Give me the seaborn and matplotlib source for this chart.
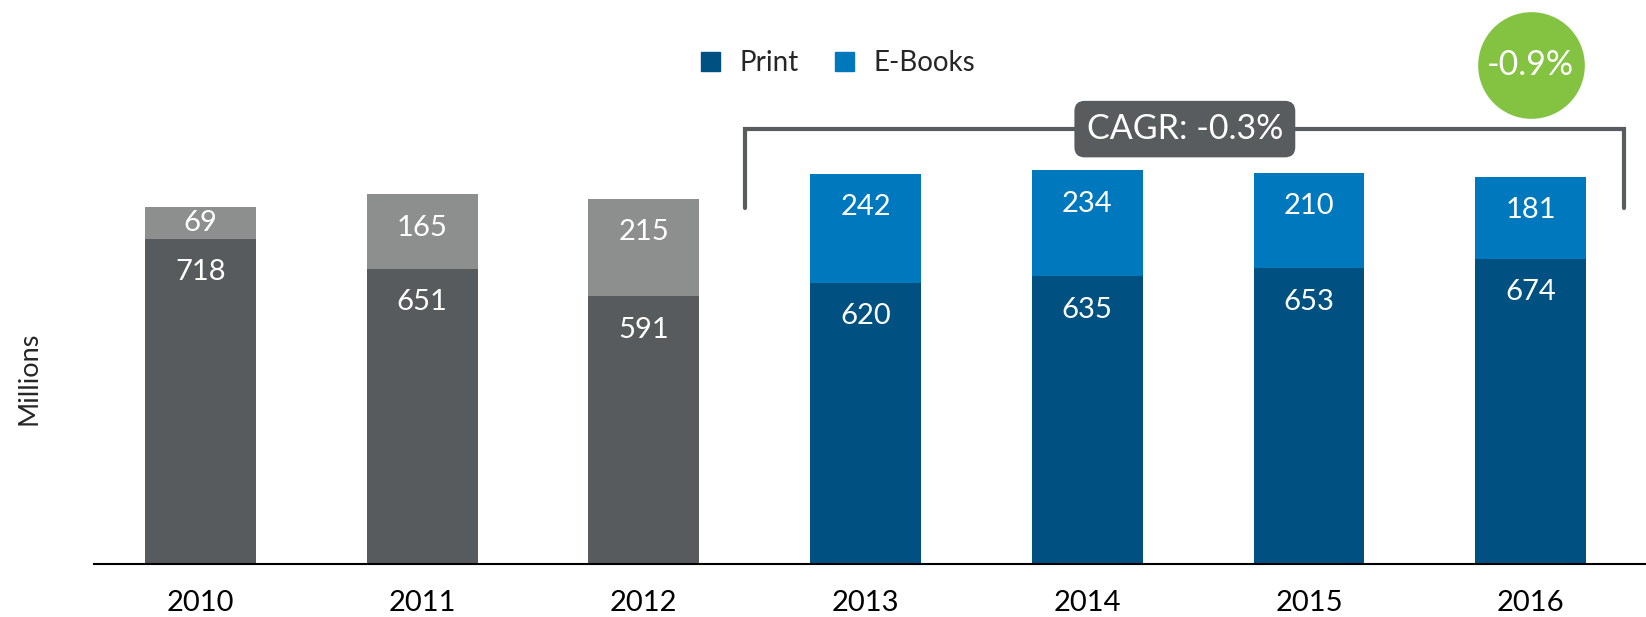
import pandas as pd
import matplotlib.pyplot as plt
import seaborn as sns
from matplotlib.patches import Patch

# values (millions of units)
years = ["2010", "2011", "2012", "2013", "2014", "2015", "2016"]
print_units = [718, 651, 591, 620, 635, 653, 674]
ebook_units = [69, 165, 215, 242, 234, 210, 181]
cagr_label = "CAGR: -0.3%"
growth_label = "-0.9%"

# first three years are historical (grey), the rest are shown in blue
print_colors = ["#585B5E"] * 3 + ["#005082"] * 4
ebook_colors = ["#8D8F8E"] * 3 + ["#0078BE"] * 4
green = "#84C341"
box_grey = "#595C5F"

sns.set_style("white")
plt.rcParams["font.family"] = ["Lato", "DejaVu Sans"]

df = pd.DataFrame({"year": years, "print": print_units, "ebooks": ebook_units})
df["total"] = df["print"] + df["ebooks"]

fig = plt.figure(figsize=(16.46, 6.17), dpi=100)
ax = fig.add_axes([94 / 1646, 53 / 617, 1552 / 1646, 564 / 617])

# stacked bars: draw the totals first, then the print part on top of them
sns.barplot(data=df, x="year", y="total", hue="year", palette=ebook_colors,
            width=0.5, errorbar=None, legend=False, ax=ax, saturation=1,
            linewidth=0)
sns.barplot(data=df, x="year", y="print", hue="year", palette=print_colors,
            width=0.5, errorbar=None, legend=False, ax=ax, saturation=1,
            linewidth=0)

ax.set_xlim(-0.48, 6.52)
ax.set_ylim(0, 1245)

# value labels inside the segments
for i, row in df.iterrows():
    ax.annotate(str(row["print"]), xy=(i, row["print"]), xytext=(0, -24),
                textcoords="offset points", ha="center", va="center",
                color="white", fontsize=21)
    seg_h = row["ebooks"] * 0.453  # pixel height of the e-book segment
    if seg_h < 50:
        ax.annotate(str(row["ebooks"]), xy=(i, row["print"] + row["ebooks"] / 2),
                    ha="center", va="center", color="white", fontsize=21)
    else:
        ax.annotate(str(row["ebooks"]), xy=(i, row["total"]), xytext=(0, -24),
                    textcoords="offset points", ha="center", va="center",
                    color="white", fontsize=21)

# CAGR bracket over 2013-2016
ax.plot([2.455, 2.455, 6.42, 6.42], [786, 960, 960, 786],
        color=box_grey, lw=3, solid_joinstyle="miter", clip_on=False, zorder=3)
ax.text(4.44, 960, cagr_label, ha="center", va="center", color="white",
        fontsize=24.5, zorder=4,
        bbox=dict(boxstyle="round,pad=0.36,rounding_size=0.3",
                  fc=box_grey, ec="none"))

# green growth bubble
ax.scatter([6.0], [1101], s=5900, color=green, clip_on=False, zorder=4,
           linewidths=0)
ax.text(6.0, 1101, growth_label, ha="center", va="center", color="white",
        fontsize=24.5, zorder=5)

# axes styling
sns.despine(ax=ax, left=True)
ax.spines["bottom"].set_color("black")
ax.spines["bottom"].set_linewidth(1.5)
ax.set_yticks([])
ax.set_xlabel("")
ax.set_ylabel("")
ax.tick_params(axis="x", length=0, pad=19, labelsize=21, labelcolor="black")
fig.text(29 / 1646, 1 - 378 / 617, "Millions", rotation=90, ha="center",
         va="center", fontsize=19.5)

handles = [Patch(color="#005082", label="Print"),
           Patch(color="#0078BE", label="E-Books")]
fig.legend(handles=handles, loc="center", bbox_to_anchor=(838 / 1646, 1 - 63 / 617),
           ncol=2, frameon=False, fontsize=20, handlelength=0.7,
           handleheight=0.7, handletextpad=0.7, columnspacing=1.3)

fig.savefig("out.png", dpi=100)
